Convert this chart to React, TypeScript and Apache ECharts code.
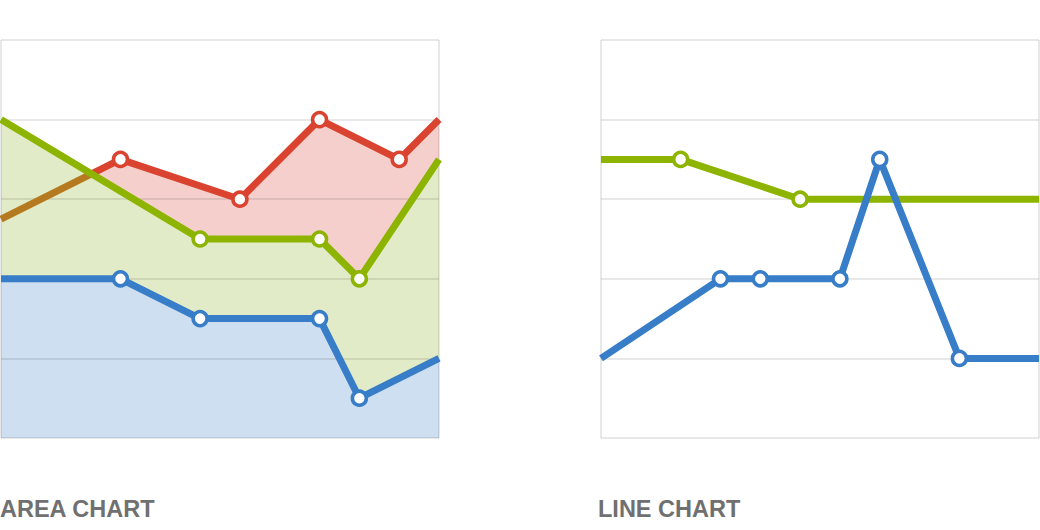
import React, { useEffect, useRef } from "react";
import * as echarts from "echarts";

// ---- data (x = position index 0..11, y = value 0..5) ----
const AREA_RED_X = [0, 3, 6, 8, 10, 11];
const AREA_RED_Y = [2.75, 3.5, 3, 4, 3.5, 4];
const AREA_GREEN_X = [0, 5, 8, 9, 11];
const AREA_GREEN_Y = [4, 2.5, 2.5, 2, 3.5];
const AREA_BLUE_X = [0, 3, 5, 8, 9, 11];
const AREA_BLUE_Y = [2, 2, 1.5, 1.5, 0.5, 1];

const LINE_BLUE_X = [0, 3, 4, 6, 7, 9, 11];
const LINE_BLUE_Y = [1, 2, 2, 2, 3.5, 1, 1];
const LINE_GREEN_X = [0, 2, 5, 11];
const LINE_GREEN_Y = [3.5, 3.5, 3, 3];

const X_MIN = 0;
const X_MAX = 11;
const Y_MIN = 0;
const Y_MAX = 5;
const Y_STEP = 1;

const TITLES = ["AREA CHART", "LINE CHART"];

const RED = "#d9432f";
const RED_UNDER = "#b57a20";
const GREEN = "#8db400";
const BLUE = "#377dc8";
const RED_FILL = "#f4cfcc";
const GREEN_FILL = "#e2ebc7";
const BLUE_FILL = "#cddff0";

function interp(xs: number[], ys: number[], x: number): number {
  for (let i = 0; i < xs.length - 1; i++) {
    if (x >= xs[i] && x <= xs[i + 1]) {
      const t = (x - xs[i]) / (xs[i + 1] - xs[i]);
      return ys[i] + t * (ys[i + 1] - ys[i]);
    }
  }
  return ys[ys.length - 1];
}

// first x where series A rises above series B
function crossing(ax: number[], ay: number[], bx: number[], by: number[]): number {
  const xs = Array.from(new Set([...ax, ...bx])).sort((a, b) => a - b);
  for (let i = 0; i < xs.length - 1; i++) {
    const d0 = interp(ax, ay, xs[i]) - interp(bx, by, xs[i]);
    const d1 = interp(ax, ay, xs[i + 1]) - interp(bx, by, xs[i + 1]);
    if (d0 < 0 && d1 >= 0) {
      return xs[i] + ((0 - d0) / (d1 - d0)) * (xs[i + 1] - xs[i]);
    }
  }
  return xs[0];
}

function pts(xs: number[], ys: number[]) {
  return xs.map((x, i) => ({
    value: [x, ys[i]],
    symbol: i === 0 || i === xs.length - 1 ? "none" : "circle",
  }));
}

function areaSeries(xs: number[], ys: number[], fill: string, g: number) {
  return {
    type: "line",
    xAxisIndex: g,
    yAxisIndex: g,
    data: xs.map((x, i) => [x, ys[i]]),
    symbol: "none",
    showSymbol: false,
    lineStyle: { width: 0 },
    areaStyle: { color: fill, opacity: 1 },
    z: 1,
    silent: true,
  };
}

function lineSeries(xs: number[], ys: number[], color: any, border: string, g: number) {
  return {
    type: "line",
    xAxisIndex: g,
    yAxisIndex: g,
    data: pts(xs, ys),
    symbol: "circle",
    symbolSize: 14,
    showSymbol: true,
    lineStyle: { width: 7, color },
    itemStyle: { color: "#ffffff", borderColor: border, borderWidth: 3.5 },
    z: 5,
    silent: true,
  };
}

export default function App() {
  const ref = useRef<HTMLDivElement>(null);
  useEffect(() => {
    if (!ref.current) return;
    const chart = echarts.init(ref.current, null, { renderer: "svg" });

    const cx = crossing(AREA_RED_X, AREA_RED_Y, AREA_GREEN_X, AREA_GREEN_Y);
    const f = (cx - X_MIN) / (X_MAX - X_MIN);
    const redGradient = {
      type: "linear",
      x: 0,
      y: 0,
      x2: 1,
      y2: 0,
      colorStops: [
        { offset: 0, color: RED_UNDER },
        { offset: f, color: RED_UNDER },
        { offset: f, color: RED },
        { offset: 1, color: RED },
      ],
    };

    const gridLine = { show: true, lineStyle: { color: "rgba(0,0,0,0.09)", width: 2 } };
    const xAx = (g: number) => ({
      type: "value",
      gridIndex: g,
      min: X_MIN,
      max: X_MAX,
      interval: X_MAX - X_MIN,
      axisLine: { show: false },
      axisTick: { show: false },
      axisLabel: { show: false },
      splitLine: gridLine,
      z: 3,
    });
    const yAx = (g: number) => ({
      type: "value",
      gridIndex: g,
      min: Y_MIN,
      max: Y_MAX,
      interval: Y_STEP,
      axisLine: { show: false },
      axisTick: { show: false },
      axisLabel: { show: false },
      splitLine: gridLine,
      z: 3,
    });

    const titleStyle = {
      font: 'bold 23.5px "Liberation Sans", Arial, sans-serif',
      fill: "#707070",
      textVerticalAlign: "middle",
    };

    chart.setOption({
      animation: false,
      backgroundColor: "#ffffff",
      grid: [
        { left: 1, top: 40, width: 438, height: 398 },
        { left: 601, top: 40, width: 438, height: 398 },
      ],
      xAxis: [xAx(0), xAx(1)],
      yAxis: [yAx(0), yAx(1)],
      graphic: [
        { type: "text", x: 0, y: 509, style: { text: TITLES[0], ...titleStyle } },
        { type: "text", x: 598, y: 509, style: { text: TITLES[1], ...titleStyle } },
      ],
      series: [
        areaSeries(AREA_RED_X, AREA_RED_Y, RED_FILL, 0),
        areaSeries(AREA_GREEN_X, AREA_GREEN_Y, GREEN_FILL, 0),
        areaSeries(AREA_BLUE_X, AREA_BLUE_Y, BLUE_FILL, 0),
        lineSeries(AREA_RED_X, AREA_RED_Y, redGradient, RED, 0),
        lineSeries(AREA_GREEN_X, AREA_GREEN_Y, GREEN, GREEN, 0),
        lineSeries(AREA_BLUE_X, AREA_BLUE_Y, BLUE, BLUE, 0),
        lineSeries(LINE_GREEN_X, LINE_GREEN_Y, GREEN, GREEN, 1),
        lineSeries(LINE_BLUE_X, LINE_BLUE_Y, BLUE, BLUE, 1),
      ],
    });
    return () => chart.dispose();
  }, []);

  return (
    <div
      ref={ref}
      style={{ position: "fixed", left: 0, top: 0, width: 1040, height: 530, background: "#fff" }}
    />
  );
}
